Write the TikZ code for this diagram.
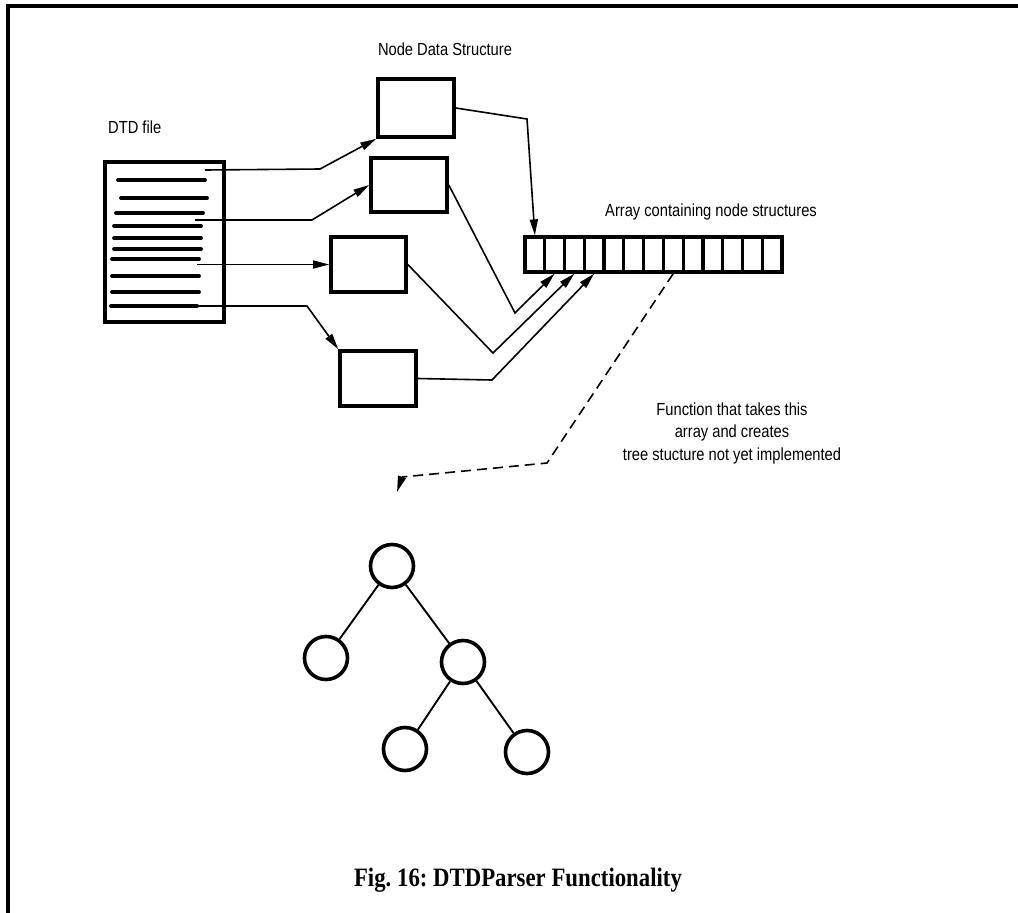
\documentclass[tikz,border=0pt]{standalone}
\usepackage{fontspec}
\setmainfont{Liberation Serif}
\newfontfamily\labelfont[FakeStretch=0.84]{Liberation Sans}
\newfontfamily\captionfont[FakeStretch=0.86]{Liberation Serif}
\usetikzlibrary{arrows.meta}

\begin{document}
\frenchspacing
\begin{tikzpicture}[x=1pt,y=-1pt,
  thickbox/.style={draw,line width=3.6pt,inner sep=0pt},
  datanode/.style={thickbox,minimum width=76pt,minimum height=56pt},
  cellbox/.style={draw,line width=3.2pt,inner sep=0pt,minimum width=19.77pt,minimum height=35pt},
  treenode/.style={circle,draw,line width=3.6pt,inner sep=0pt,minimum size=43pt},
  textline/.style={line width=3.8pt,line cap=round},
  wire/.style={line width=1.6pt},
  arrowwire/.style={wire,-{Triangle[length=16pt,width=8pt]}},
  dashwire/.style={line width=1.6pt,dash pattern=on 10pt off 6pt},
  label/.style={font=\labelfont\fontsize{17.5}{20}\selectfont,inner sep=0pt},
  caption/.style={font=\captionfont\bfseries\fontsize{26.5}{30}\selectfont,inner sep=0pt}]

\useasboundingbox (0,0) rectangle (1018,913);
\fill[white] (0,0) rectangle (1018,913);

% page frame, top and left edges
\draw[line width=3.4pt] (8,913) -- (8,6) -- (1018,6);

% labels
\node[label,anchor=base] (lblnode) at (445,55) {Node Data Structure};
\node[label,anchor=base west] (lbldtd) at (108,133) {DTD file};
\node[label,anchor=base west] (lblarr) at (605,216) {Array containing node structures};
\node[label,anchor=base] (fn1) at (732,415) {Function that takes this};
\node[label,anchor=base] (fn2) at (732,437) {array and creates};
\node[label,anchor=base] (fn3) at (732,460) {tree stucture not yet implemented};

% the DTD file with its text lines
\node[thickbox,minimum width=119pt,minimum height=160pt] (dtd) at (164.5,242) {};
\foreach \ya/\xa/\xb in {180/118/205, 198/121/207, 213/116/203, 226/114/201,
    238/114/201, 249/114/201, 259/112/199, 276/112/199, 292/112/199, 306/111/197}
  \draw[textline] (\xa,\ya) -- (\xb,\ya);

% node data structures
\node[datanode,minimum height=58pt] (box1) at (416,108) {};
\node[datanode,minimum height=54pt] (box2) at (409,185) {};
\node[datanode,minimum width=75pt,minimum height=55pt] (box3) at (368.5,264.5) {};
\node[datanode,minimum height=55pt] (box4) at (378,378.5) {};

% array of node structures
\foreach \i in {1,...,13}
  \node[cellbox] (c\i) at ({525+19.77*(\i-0.5)},254.5) {};

% the tree
\node[treenode] (root) at (392,566) {};
\node[treenode] (left) at (326,658) {};
\node[treenode] (right) at (463,662) {};
\node[treenode] (rl) at (405,749) {};
\node[treenode] (rr) at (527,752) {};
\draw[line width=1.9pt] (root) -- (left);
\draw[line width=1.9pt] (root) -- (right);
\draw[line width=1.9pt] (right) -- (rl);
\draw[line width=1.9pt] (right) -- (rr);

% connectors from the file lines to the data structures
\coordinate (s1) at (205,170);
\coordinate (s2) at (195,220);
\coordinate (s3) at (197,264.5);
\coordinate (s4) at (197,306);
\draw[arrowwire] (s1) -- (320,169) -- (box1.south west);
\draw[arrowwire] (s2) -- (312,220) -- (box2.west);
\draw[arrowwire] (s3) -- (box3.west);
\draw[arrowwire] (s4) -- (307,306) -- (box4.north west);

% connectors from the data structures into the array
\draw[arrowwire] (box1.east) -- (527,119) -- (c1.north);
\draw[arrowwire] (box2.east) -- (515,313) -- (c2.south);
\draw[arrowwire] (box3.east) -- (493,353) -- (c3.south);
\draw[arrowwire] (box4.east) -- (492,380) -- (c4.south);

% planned conversion of the array into a tree
\coordinate (dashend) at (397,492);
\draw[dashwire] (c8.south) -- (547,463) -- (402,477);
\draw[wire,-{Triangle[length=16pt,width=8pt]}] (402,477) -- (dashend);

% caption
\node[caption,anchor=base] (cap) at (518,886) {Fig. 16: DTDParser Functionality};
\end{tikzpicture}
\end{document}
